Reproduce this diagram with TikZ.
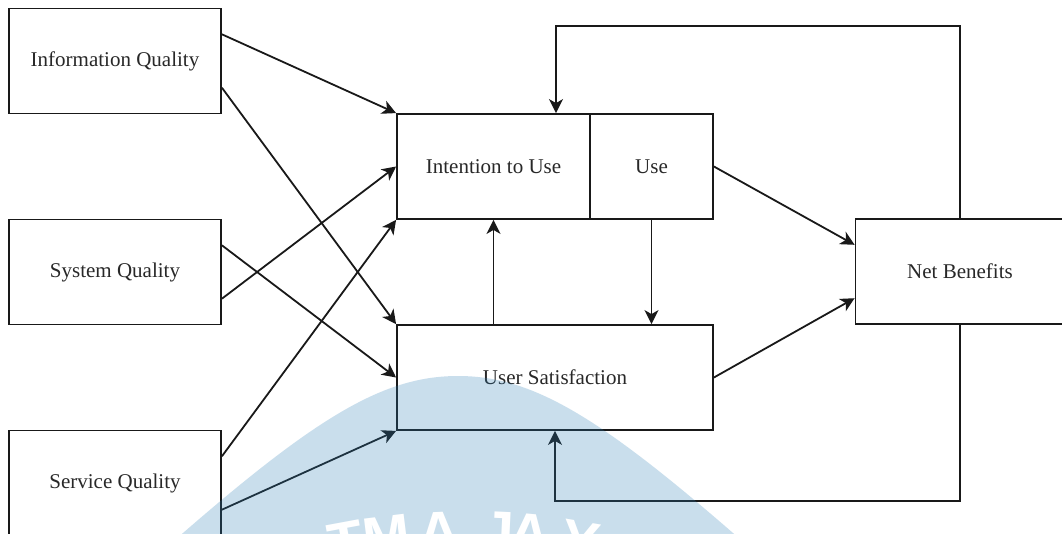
\documentclass[tikz,border=0pt]{standalone}
\usepackage{fontspec}
\setmainfont{Liberation Serif}
\newfontfamily\wmfont{Liberation Sans}
\usetikzlibrary{arrows.meta,calc}
\definecolor{wmblue}{RGB}{43,127,183}
\definecolor{ink}{RGB}{25,25,25}
\definecolor{txt}{RGB}{40,40,40}
\begin{document}
\begin{tikzpicture}[x=1pt,y=-1pt,
  box/.style={draw=ink,line width=1.8pt,rectangle,inner sep=0pt,
    font=\fontsize{21}{25}\selectfont,text=txt},
  arr/.style={draw=ink,line width=1.8pt,-{Stealth[length=14pt,width=14pt,inset=4pt]}},
  wm/.style={text=white,font=\wmfont\bfseries\fontsize{57}{57}\selectfont,anchor=base,inner sep=0pt}]
\clip (0,0) rectangle (1062,533);
\fill[white] (0,0) rectangle (1062,533);

% boxes
\node[box,minimum width=212pt,minimum height=105pt] (iq) at (115,61) {Information Quality};
\node[box,minimum width=212pt,minimum height=105pt] (sq) at (115,272) {System Quality};
\node[box,minimum width=212pt,minimum height=105pt] (svq) at (115,483) {Service Quality};
\node[box,minimum width=193pt,minimum height=105pt] (itu) at (493.5,166.5) {Intention to Use};
\node[box,minimum width=123pt,minimum height=105pt] (use) at (651.5,166.5) {Use};
\node[box,minimum width=316pt,minimum height=105pt] (us) at (555,377.5) {User Satisfaction};
\node[box,minimum width=209pt,minimum height=105pt] (nb) at (960,271.5) {Net Benefits};

% helper points on box sides
\coordinate (iqa) at ($(iq.north east)!0.25!(iq.south east)$);
\coordinate (iqb) at ($(iq.north east)!0.75!(iq.south east)$);
\coordinate (sqa) at ($(sq.north east)!0.25!(sq.south east)$);
\coordinate (sqb) at ($(sq.north east)!0.75!(sq.south east)$);
\coordinate (sva) at ($(svq.north east)!0.25!(svq.south east)$);
\coordinate (svb) at ($(svq.north east)!0.75!(svq.south east)$);
\coordinate (nba) at ($(nb.north west)!0.25!(nb.south west)$);
\coordinate (nbb) at ($(nb.north west)!0.75!(nb.south west)$);
\coordinate (topL) at (556,26);
\coordinate (botL) at (555,501);

% left arrows
\draw[arr] (iqa) -- (itu.north west);
\draw[arr] (iqb) -- (us.north west);
\draw[arr] (sqa) -- (us.west);
\draw[arr] (sqb) -- (itu.west);
\draw[arr] (sva) -- (itu.south west);
\draw[arr] (svb) -- (us.south west);

% middle arrows
\draw[arr] (itu.south |- us.north) -- (itu.south);
\draw[arr] (use.south) -- (use.south |- us.north);

% to net benefits
\draw[arr] (use.east) -- (nba);
\draw[arr] (us.east) -- (nbb);

% feedback loops
\draw[arr] (nb.north) |- (topL) -- (topL |- itu.north);
\draw[arr] (nb.south) |- (botL) -- (us.south);

% watermark
\fill[wmblue,fill opacity=0.25] (150,562) .. controls (310,420) and (380,376) .. (458,376)
  .. controls (536,376) and (606,420) .. (766,562) -- cycle;
\node[wm,rotate=10.5] (w2) at (350,561.8) {T};
\node[wm,rotate=7.0] (w3) at (389,555.8) {M};
\node[wm,rotate=2.5] (w4) at (440,551.6) {A};
\node[wm,rotate=-2.6] (w5) at (497,551.6) {J};
\node[wm,rotate=-5.3] (w6) at (528,553.8) {A};
\node[wm,rotate=-9.65] (w7) at (577,560.2) {Y};
\end{tikzpicture}
\end{document}
